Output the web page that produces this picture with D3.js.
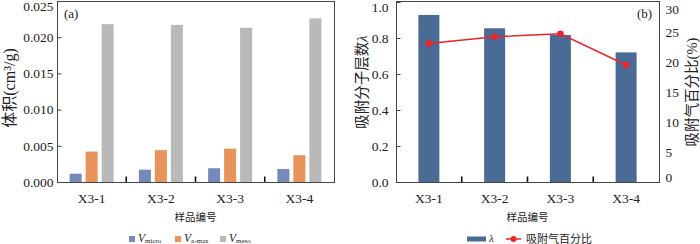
<!DOCTYPE html>
<html lang="zh">
<head>
<meta charset="UTF-8">
<title>孔隙体积与吸附分子层数</title>
<script src="https://cdn.jsdelivr.net/npm/d3@7/dist/d3.min.js"></script>
<style>
  body { margin: 0; background: #fff; }
  svg text { font-family: "Liberation Serif", "Noto Sans CJK SC", serif; fill: #222; }
</style>
</head>
<body>
<div id="chart"></div>
<script>
// data
var samples = ["X3-1", "X3-2", "X3-3", "X3-4"];
var seriesKeys = ["micro", "amax", "meso"];
var vMicro = [0.00115, 0.0017, 0.0019, 0.0018];
var vAmax = [0.0042, 0.0044, 0.0046, 0.0037];
var vMeso = [0.0218, 0.0217, 0.0213, 0.0226];
var lambdaVals = [0.928, 0.854, 0.817, 0.72];
var gasPct = [23.1, 24.2, 24.7, 19.5];
var leftTicks = [0, 0.005, 0.01, 0.015, 0.02, 0.025];
var lamTicks = [0, 0.2, 0.4, 0.6, 0.8, 1.0];
var pctTicks = [0, 5, 10, 15, 20, 25, 30];

var colors = { micro: "#7788bb", amax: "#e8935a", meso: "#b9b9b9", lam: "#4a6b96", red: "#e8262b" };
var serif = "'Liberation Serif', 'Noto Sans CJK SC', serif";

var svg = d3.select("#chart").append("svg").attr("width", 700).attr("height", 244);

function frame(x0, x1, y0, y1) {
  svg.append("rect").attr("x", x0 + 0.5).attr("y", y0 + 0.5)
    .attr("width", x1 - x0).attr("height", y1 - y0)
    .attr("fill", "none").attr("stroke", "#444").attr("stroke-width", 1);
}

function catTicks(x, y1) {
  // small dark marks between categories
  x.domain().slice(1).forEach(function (s) {
    svg.append("line").attr("x1", x(s)).attr("x2", x(s))
      .attr("y1", y1).attr("y2", y1 - 5.5)
      .attr("stroke", "#111").attr("stroke-width", 1.6);
  });
}

function styleAxis(g, size) {
  g.attr("font-family", serif);
  g.select(".domain").remove();
  g.selectAll("line").attr("stroke", "#444");
  g.selectAll("text").style("font-size", size + "px").style("font-family", serif).attr("fill", "#222");
}

// ---------- (a) ----------
var ax0 = 57, ax1 = 334, plotTop = 1, plotBot = 182;
var xa = d3.scaleBand().domain(samples).range([ax0, ax1]);
var xs = d3.scaleBand().domain(seriesKeys).range([-22, 22]).paddingInner(0.25);
var ya = d3.scaleLinear().domain([0, 0.025]).range([plotBot, plotTop]);

var valsA = { micro: vMicro, amax: vAmax, meso: vMeso };
seriesKeys.forEach(function (k) {
  svg.append("g").selectAll("rect").data(samples).enter().append("rect")
    .attr("x", function (d) { return xa(d) + xa.bandwidth() / 2 + xs(k); })
    .attr("width", xs.bandwidth())
    .attr("y", function (d, i) { return ya(valsA[k][i]); })
    .attr("height", function (d, i) { return plotBot - ya(valsA[k][i]); })
    .attr("fill", colors[k]);
});

frame(ax0, ax1, plotTop, plotBot);

var gya = svg.append("g").attr("transform", "translate(" + (ax0 + 0.5) + ",0)")
  .call(d3.axisLeft(ya).tickValues(leftTicks).tickFormat(d3.format(".3f")).tickSize(-4).tickPadding(4));
styleAxis(gya, 13.5);
gya.selectAll(".tick").filter(function (d) { return d === 0.025; }).select("text").attr("dy", "0.72em");

var gxa = svg.append("g").attr("transform", "translate(0," + plotBot + ")")
  .call(d3.axisBottom(xa).tickSize(0).tickPadding(11));
styleAxis(gxa, 13.5);
catTicks(xa, plotBot);

svg.append("text").attr("x", 64).attr("y", 18).style("font-size", "13px").text("(a)");

svg.append("text").attr("transform", "translate(9,88) rotate(-90)")
  .attr("text-anchor", "middle").attr("dominant-baseline", "central")
  .style("font-size", "16px").text("体积(cm³/g)");

svg.append("text").attr("x", (ax0 + ax1) / 2).attr("y", 221)
  .attr("text-anchor", "middle").style("font-size", "10.5px").text("样品编号");

// legend (a)
var legA = [
  { k: "micro", sub: "micro", x: 129 },
  { k: "amax", sub: "a-max", x: 175 },
  { k: "meso", sub: "meso", x: 220 }
];
legA.forEach(function (l) {
  svg.append("rect").attr("x", l.x).attr("y", 236).attr("width", 6).attr("height", 6).attr("fill", colors[l.k]);
  var t = svg.append("text").attr("x", l.x + 9).attr("y", 241.5).style("font-size", "11.5px");
  t.append("tspan").style("font-style", "italic").text("V");
  t.append("tspan").attr("dy", 1.2).style("font-size", "7px").text(l.sub);
});

// ---------- (b) ----------
var bx0 = 396, bx1 = 659;
var xb = d3.scaleBand().domain(samples).range([bx0, bx1]);
var yl = d3.scaleLinear().domain([0, 1]).range([plotBot, 2]);
var yr = d3.scaleLinear().domain([0, 30]).range([plotBot, 2]);
var barW = 21;

svg.append("g").selectAll("rect").data(samples).enter().append("rect")
  .attr("x", function (d) { return xb(d) + xb.bandwidth() / 2 - barW / 2; })
  .attr("width", barW)
  .attr("y", function (d, i) { return yl(lambdaVals[i]); })
  .attr("height", function (d, i) { return plotBot - yl(lambdaVals[i]); })
  .attr("fill", colors.lam);

var line = d3.line()
  .x(function (d, i) { return xb(samples[i]) + xb.bandwidth() / 2; })
  .y(function (d) { return yr(d); });
svg.append("path").datum(gasPct).attr("d", line)
  .attr("fill", "none").attr("stroke", colors.red).attr("stroke-width", 1.5);
svg.append("g").selectAll("circle").data(gasPct).enter().append("circle")
  .attr("cx", function (d, i) { return xb(samples[i]) + xb.bandwidth() / 2; })
  .attr("cy", function (d) { return yr(d); })
  .attr("r", 3.3).attr("fill", colors.red);

frame(bx0, bx1, plotTop, plotBot);

var gyl = svg.append("g").attr("transform", "translate(" + (bx0 + 0.5) + ",0)")
  .call(d3.axisLeft(yl).tickValues(lamTicks).tickFormat(d3.format(".1f")).tickSize(-4).tickPadding(8));
styleAxis(gyl, 13.5);
gyl.selectAll(".tick").filter(function (d) { return d === 1; }).select("text").attr("dy", "0.72em");

var gyr = svg.append("g").attr("transform", "translate(" + (bx1 + 0.5) + ",0)")
  .call(d3.axisRight(yr).tickValues(pctTicks).tickSize(0).tickPadding(6));
styleAxis(gyr, 13.5);
gyr.selectAll(".tick").filter(function (d) { return d === 30; }).select("text").attr("dy", "0.85em");
gyr.selectAll(".tick").filter(function (d) { return d === 0; }).select("text").attr("dy", "-0.05em");

var gxb = svg.append("g").attr("transform", "translate(0," + plotBot + ")")
  .call(d3.axisBottom(xb).tickSize(0).tickPadding(11));
styleAxis(gxb, 13.5);
catTicks(xb, plotBot);

svg.append("text").attr("x", 637).attr("y", 18).style("font-size", "13px").text("(b)");

var tl = svg.append("text").attr("transform", "translate(362,82) rotate(-90)")
  .attr("text-anchor", "middle").attr("dominant-baseline", "central").style("font-size", "14.5px");
tl.append("tspan").text("吸附分子层数");
tl.append("tspan").style("font-style", "italic").text("λ");

svg.append("text").attr("transform", "translate(692,92) rotate(-90)")
  .attr("text-anchor", "middle").attr("dominant-baseline", "central")
  .style("font-size", "14.5px").text("吸附气百分比(%)");

svg.append("text").attr("x", (bx0 + bx1) / 2).attr("y", 221)
  .attr("text-anchor", "middle").style("font-size", "10.5px").text("样品编号");

// legend (b)
svg.append("rect").attr("x", 467).attr("y", 236.5).attr("width", 19).attr("height", 5).attr("fill", colors.lam);
svg.append("text").attr("x", 489).attr("y", 242).style("font-size", "11px").style("font-style", "italic").text("λ");
svg.append("line").attr("x1", 506).attr("x2", 521).attr("y1", 239).attr("y2", 239)
  .attr("stroke", colors.red).attr("stroke-width", 1.5);
svg.append("circle").attr("cx", 513.5).attr("cy", 239).attr("r", 3).attr("fill", colors.red);
svg.append("text").attr("x", 526).attr("y", 242.5).style("font-size", "11px").text("吸附气百分比");
</script>
</body>
</html>
